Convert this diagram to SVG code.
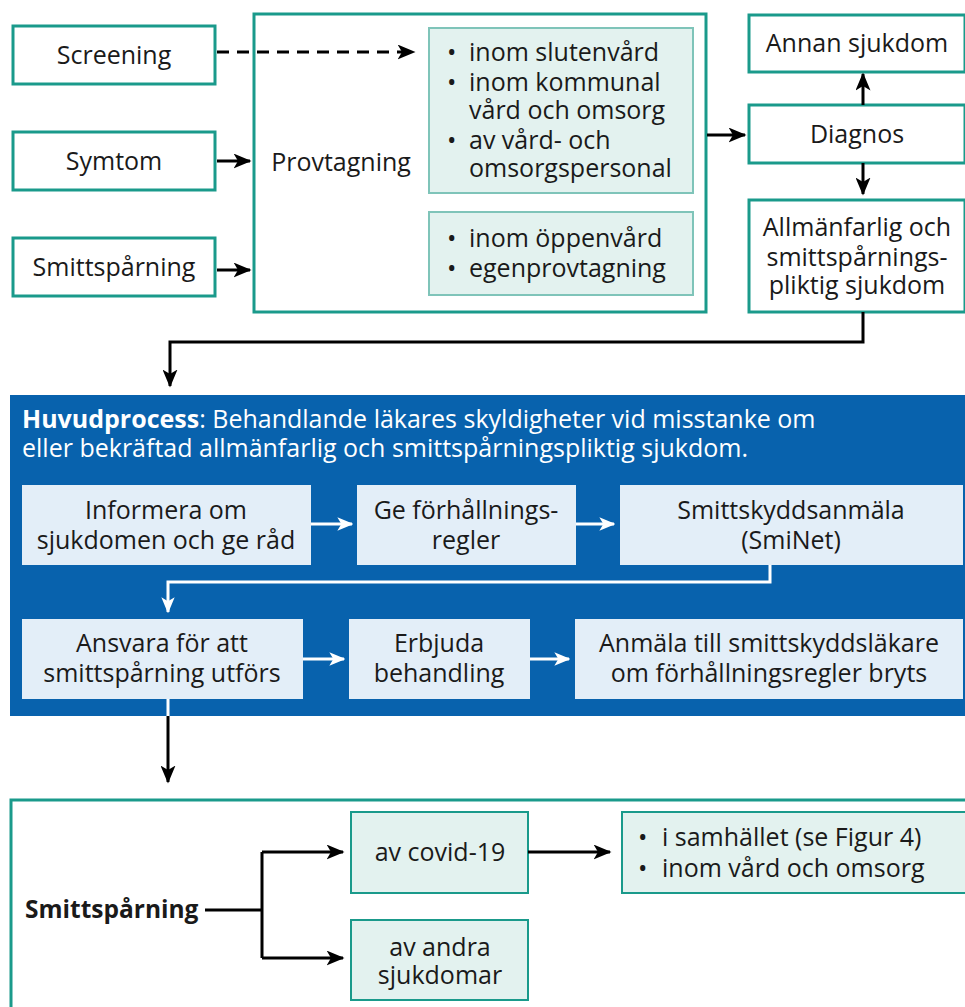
<svg xmlns="http://www.w3.org/2000/svg" width="965" height="1007" viewBox="0 0 965 1007">
<defs>
<style>
text{font-family:"Open Sans","Noto Sans",sans-serif;font-size:25px;fill:#1a1a1a}
.c{text-anchor:middle}
.w{fill:#fff}
.b{font-weight:bold}
.bb{font-size:24.5px}
.tbox{fill:#fff;stroke:#1a9a8b;stroke-width:3}
.tfill{fill:#e3f2ef;stroke:#7fc4b9;stroke-width:2}
.tfill2{fill:#e3f2ef;stroke:#1a9a8b;stroke-width:2}
.lb{fill:#e3eef8;stroke:none}
.k{fill:none;stroke:#000;stroke-width:3}
.wl{fill:none;stroke:#fff;stroke-width:3}
</style>
<marker id="akb" viewBox="0 0 12 10" refX="11" refY="5" markerWidth="18" markerHeight="15" markerUnits="userSpaceOnUse" orient="auto"><path d="M0,0 L12,5 L0,10 L3,5 z" fill="#000"/></marker>
<marker id="aw" viewBox="0 0 12 10" refX="11" refY="5" markerWidth="16" markerHeight="14" markerUnits="userSpaceOnUse" orient="auto"><path d="M0,0 L12,5 L0,10 L3,5 z" fill="#fff"/></marker>
</defs>
<rect width="965" height="1007" fill="#fff"/>

<g id="huvudprocess">
<rect x="10" y="395" width="955" height="321" fill="#0862ad"/>
<text x="22" y="428" class="w"><tspan class="b" fill="#fff">Huvudprocess</tspan>: Behandlande läkares skyldigheter vid misstanke om</text>
<text x="22" y="457" class="w">eller bekräftad allmänfarlig och smittspårningspliktig sjukdom.</text>
</g>

<g id="screening"><rect x="13" y="26" width="202" height="58" class="tbox"/><text x="114" y="64" class="c">Screening</text></g>
<g id="symtom"><rect x="13" y="132" width="202" height="58" class="tbox"/><text x="114" y="170" class="c">Symtom</text></g>
<g id="smittsparning-in"><rect x="13" y="238" width="202" height="58" class="tbox"/><text x="114" y="276" class="c">Smittspårning</text></g>

<g id="provtagning">
<rect x="254" y="14" width="452" height="298" class="tbox"/>
<text x="341" y="171" class="c">Provtagning</text>
</g>
<g id="prov-1">
<rect x="429" y="28" width="264" height="165" class="tfill"/>
<text x="447" y="61">•</text><text x="469" y="61">inom slutenvård</text>
<text x="447" y="91">•</text><text x="469" y="91">inom kommunal</text>
<text x="469" y="119">vård och omsorg</text>
<text x="447" y="149">•</text><text x="469" y="149">av vård- och</text>
<text x="469" y="177">omsorgspersonal</text>
</g>
<g id="prov-2">
<rect x="429" y="212" width="264" height="83" class="tfill"/>
<text x="447" y="247">•</text><text x="469" y="247">inom öppenvård</text>
<text x="447" y="277">•</text><text x="469" y="277">egenprovtagning</text>
</g>

<g id="annan"><rect x="749" y="15" width="216" height="57" class="tbox"/><text x="857" y="52" class="c">Annan sjukdom</text></g>
<g id="diagnos"><rect x="749" y="105" width="216" height="58" class="tbox"/><text x="857" y="143" class="c">Diagnos</text></g>
<g id="allmanfarlig"><rect x="749" y="200" width="216" height="112" class="tbox"/>
<text x="857" y="236" class="c">Allmänfarlig och</text>
<text x="857" y="266" class="c">smittspårnings-</text>
<text x="857" y="294" class="c">pliktig sjukdom</text></g>

<g id="informera"><rect x="22" y="485" width="289" height="80" class="lb"/>
<text x="166" y="519" class="c">Informera om</text><text x="166" y="549" class="c">sjukdomen och ge råd</text></g>
<g id="ge-forhallningsregler"><rect x="357" y="485" width="219" height="80" class="lb"/>
<text x="466" y="519" class="c">Ge förhållnings-</text><text x="466" y="549" class="c">regler</text></g>
<g id="smittskyddsanmala"><rect x="620" y="485" width="343" height="80" class="lb"/>
<text x="791" y="519" class="c">Smittskyddsanmäla</text><text x="791" y="549" class="c">(SmiNet)</text></g>
<g id="ansvara"><rect x="22" y="619" width="281" height="80" class="lb"/>
<text x="162" y="652" class="c">Ansvara för att</text><text x="162" y="682" class="c">smittspårning utförs</text></g>
<g id="erbjuda"><rect x="349" y="619" width="181" height="80" class="lb"/>
<text x="439" y="652" class="c">Erbjuda</text><text x="439" y="682" class="c">behandling</text></g>
<g id="anmala"><rect x="575" y="619" width="388" height="80" class="lb"/>
<text x="769" y="652" class="c">Anmäla till smittskyddsläkare</text><text x="769" y="682" class="c">om förhållningsregler bryts</text></g>

<g id="smittsparning-out">
<rect x="11" y="800" width="956" height="210" class="tbox"/>
<text x="25" y="918" class="b bb">Smittspårning</text>
</g>
<g id="covid"><rect x="351" y="812" width="177" height="81" class="tfill2"/><text x="440" y="861" class="c">av covid-19</text></g>
<g id="andra"><rect x="351" y="920" width="177" height="80" class="tfill2"/>
<text x="440" y="956" class="c">av andra</text><text x="440" y="984" class="c">sjukdomar</text></g>
<g id="covid-list"><rect x="622" y="812" width="345" height="81" class="tfill2"/>
<text x="638" y="846">•</text><text x="662" y="846">i samhället (se Figur 4)</text>
<text x="638" y="877">•</text><text x="662" y="877">inom vård och omsorg</text></g>

<g id="connectors">
<path d="M217,52 H414" class="k" stroke-dasharray="12,8" marker-end="url(#akb)"/>
<path d="M217,161 H250" class="k" marker-end="url(#akb)"/>
<path d="M217,270 H250" class="k" marker-end="url(#akb)"/>
<path d="M707,135 H745" class="k" marker-end="url(#akb)"/>
<path d="M863,105 V74" class="k" marker-end="url(#akb)"/>
<path d="M863,163 V194" class="k" marker-end="url(#akb)"/>
<path d="M863,312 V342 H170 V386" class="k" marker-end="url(#akb)"/>
<path d="M311,524 H352" class="wl" marker-end="url(#aw)"/>
<path d="M576,524 H614" class="wl" marker-end="url(#aw)"/>
<path d="M770,565 V582 H168 V612" class="wl" marker-end="url(#aw)"/>
<path d="M303,659 H344" class="wl" marker-end="url(#aw)"/>
<path d="M530,659 H569" class="wl" marker-end="url(#aw)"/>
<path d="M168,699 V716" class="wl"/>
<path d="M168,716 V782" class="k" marker-end="url(#akb)"/>
<path d="M205,910 H262 M262,852 V958" class="k"/>
<path d="M262,852 H343" class="k" marker-end="url(#akb)"/>
<path d="M262,958 H343" class="k" marker-end="url(#akb)"/>
<path d="M528,852 H610" class="k" marker-end="url(#akb)"/>
</g>
</svg>
